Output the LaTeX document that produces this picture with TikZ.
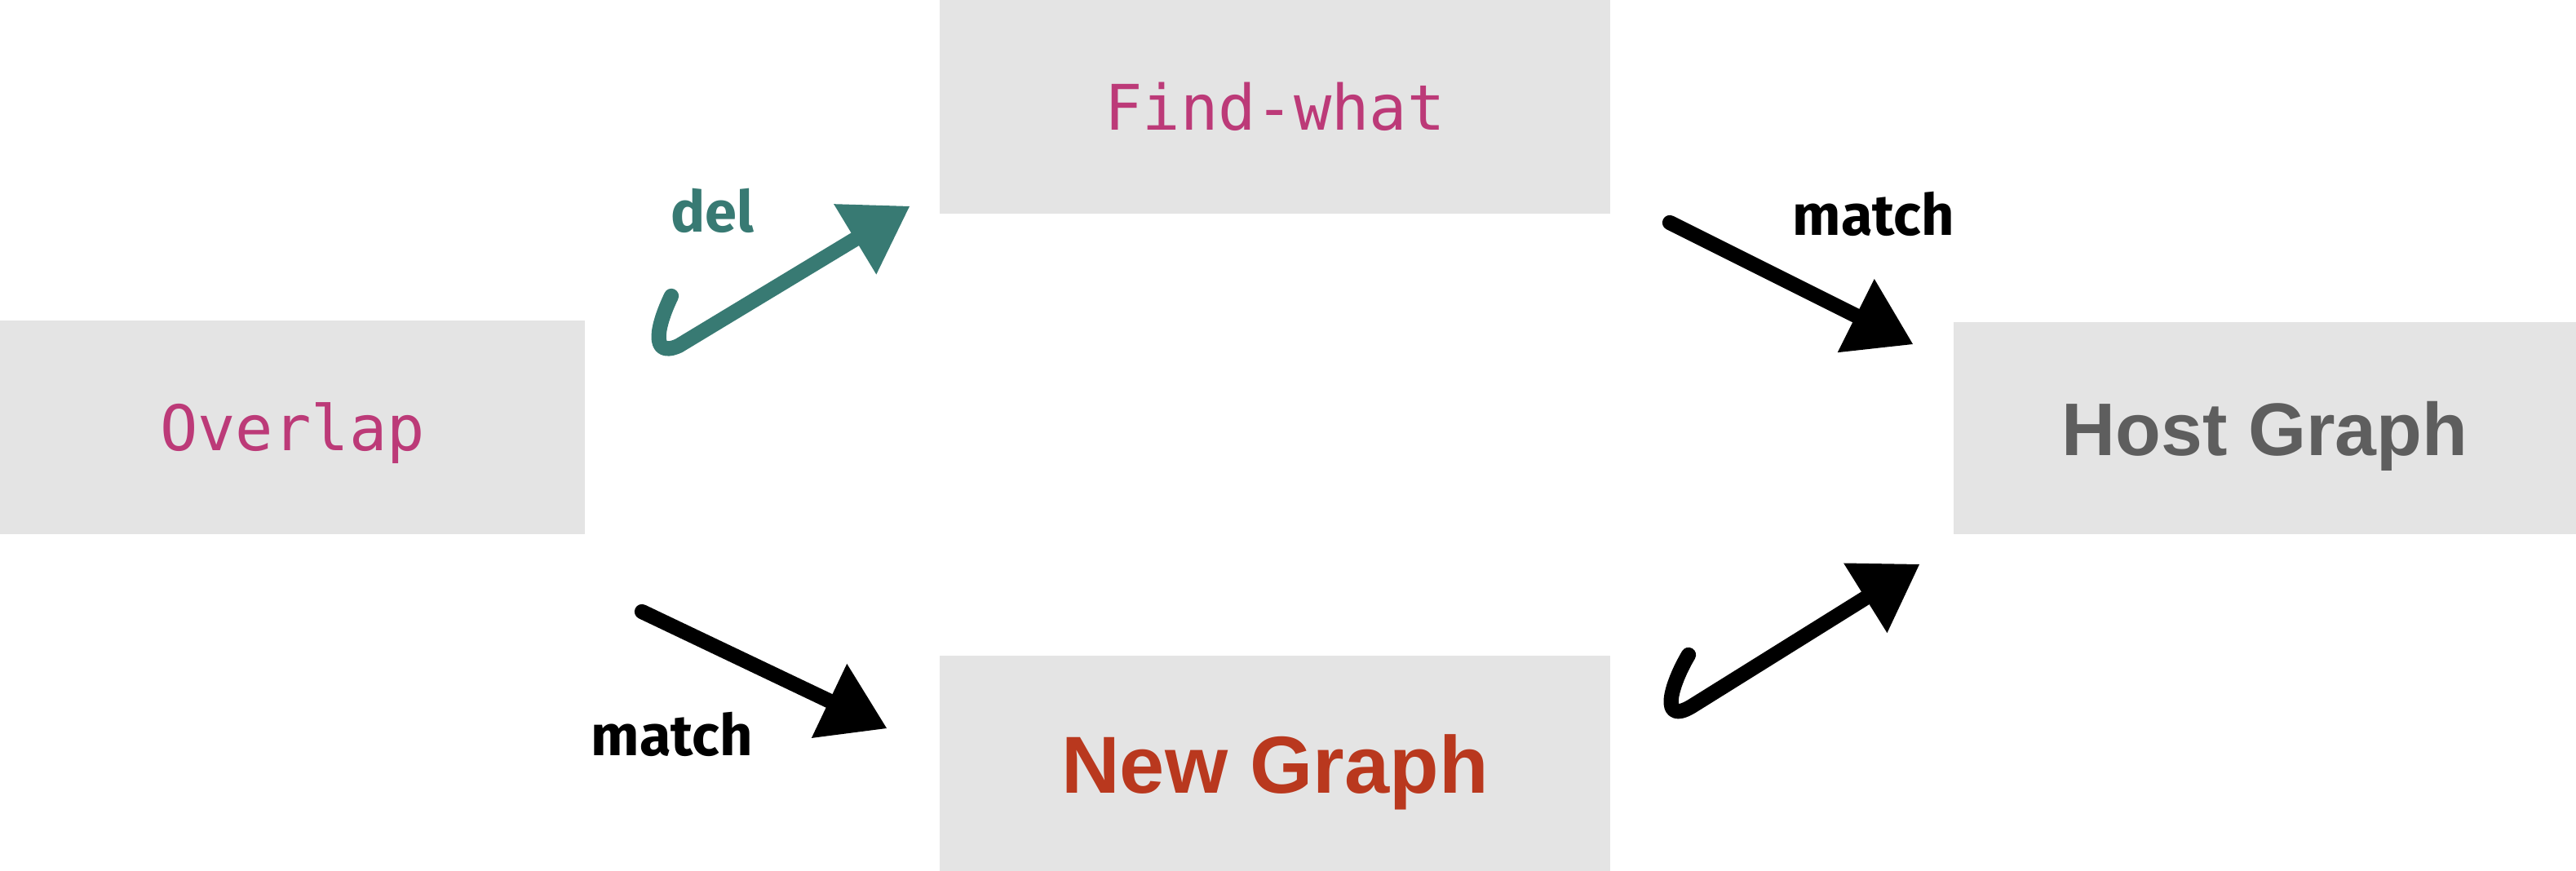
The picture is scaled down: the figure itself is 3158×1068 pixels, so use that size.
\documentclass[tikz,border=0pt]{standalone}
\usepackage{fontspec}
\setmonofont{DejaVu Sans Mono}
\newfontfamily\headfont{Liberation Sans}
\newfontfamily\handfont{Fira Sans}
\usepackage{tikz}
\usetikzlibrary{arrows.meta, positioning}
\definecolor{boxgray}{RGB}{228,228,228}
\definecolor{codepink}{RGB}{188,58,120}
\definecolor{hostgray}{RGB}{94,94,94}
\definecolor{newred}{RGB}{185,56,30}
\definecolor{delteal}{RGB}{56,122,115}

\begin{document}
\begin{tikzpicture}[
    x=0.01cm, y=-0.01cm,
    every node/.style={inner sep=0pt, outer sep=0pt},
    box/.style={fill=boxgray, draw=none, minimum height=2.62cm, text depth=0pt},
    codebox/.style={box, font=\ttfamily\fontsize{21.9}{24}\selectfont, text=codepink, text height=0.56cm},
    graphbox/.style={box, font=\headfont\bfseries\fontsize{26}{28}\selectfont, text height=0.66cm},
    hand/.style={font=\handfont\bfseries\fontsize{20}{20}\selectfont},
    sketch/.style={draw=black, line width=5.2pt, line cap=round, line join=round,
                   -{Triangle[length=0.78cm, width=1.0cm, fill=black, line width=1pt]}},
    delsketch/.style={draw=delteal, line width=5.2pt, line cap=round, line join=round,
                   -{Triangle[length=0.78cm, width=1.0cm, fill=delteal, line width=1pt]}}
]
\useasboundingbox (0,0) rectangle (3158,1068);

% -------- Boxes --------
\node[codebox, minimum width=7.17cm]                 (overlap)  at (358.5,524)  {Overlap};
\node[codebox, minimum width=8.22cm]                 (findwhat) at (1563,131)   {Find-what};
\node[graphbox, minimum width=8.22cm, minimum height=2.64cm, text=newred,
      font=\headfont\bfseries\fontsize{28.2}{30}\selectfont, text height=0.72cm,
      below=5.42cm of findwhat]                      (newgraph) {New Graph};
\node[graphbox, minimum width=7.63cm, minimum height=2.60cm, text=hostgray]
                                                     (hostgraph) at (2776.5,525) {Host Graph};

% -------- Arrow ends --------
\coordinate (deltail)  at (823,363);
\coordinate (delhead)  at (1115,253);
\coordinate (mtoptail) at (2047,273);
\coordinate (mtophead) at (2345,422);
\coordinate (mbottail) at (787,750);
\coordinate (mbothead) at (1087,893);
\coordinate (inctail)  at (2070,803);
\coordinate (inchead)  at (2353,692);

% -------- Arrows --------
\draw[delsketch] (deltail) .. controls (806,398) and (796,440) .. (832,424) -- (delhead);
\draw[sketch] (mtoptail) -- (mtophead);
\draw[sketch] (mbottail) -- (mbothead);
\draw[sketch] (inctail) .. controls (2048,840) and (2034,890) .. (2074,866) -- (inchead);

% -------- Labels --------
\node[hand, text=delteal] (dellabel)    at (873,258)  {del};
\node[hand]               (matchtop)    at (2297,262) {match};
\node[hand]               (matchbottom) at (824,900)  {match};

\end{tikzpicture}
\end{document}
